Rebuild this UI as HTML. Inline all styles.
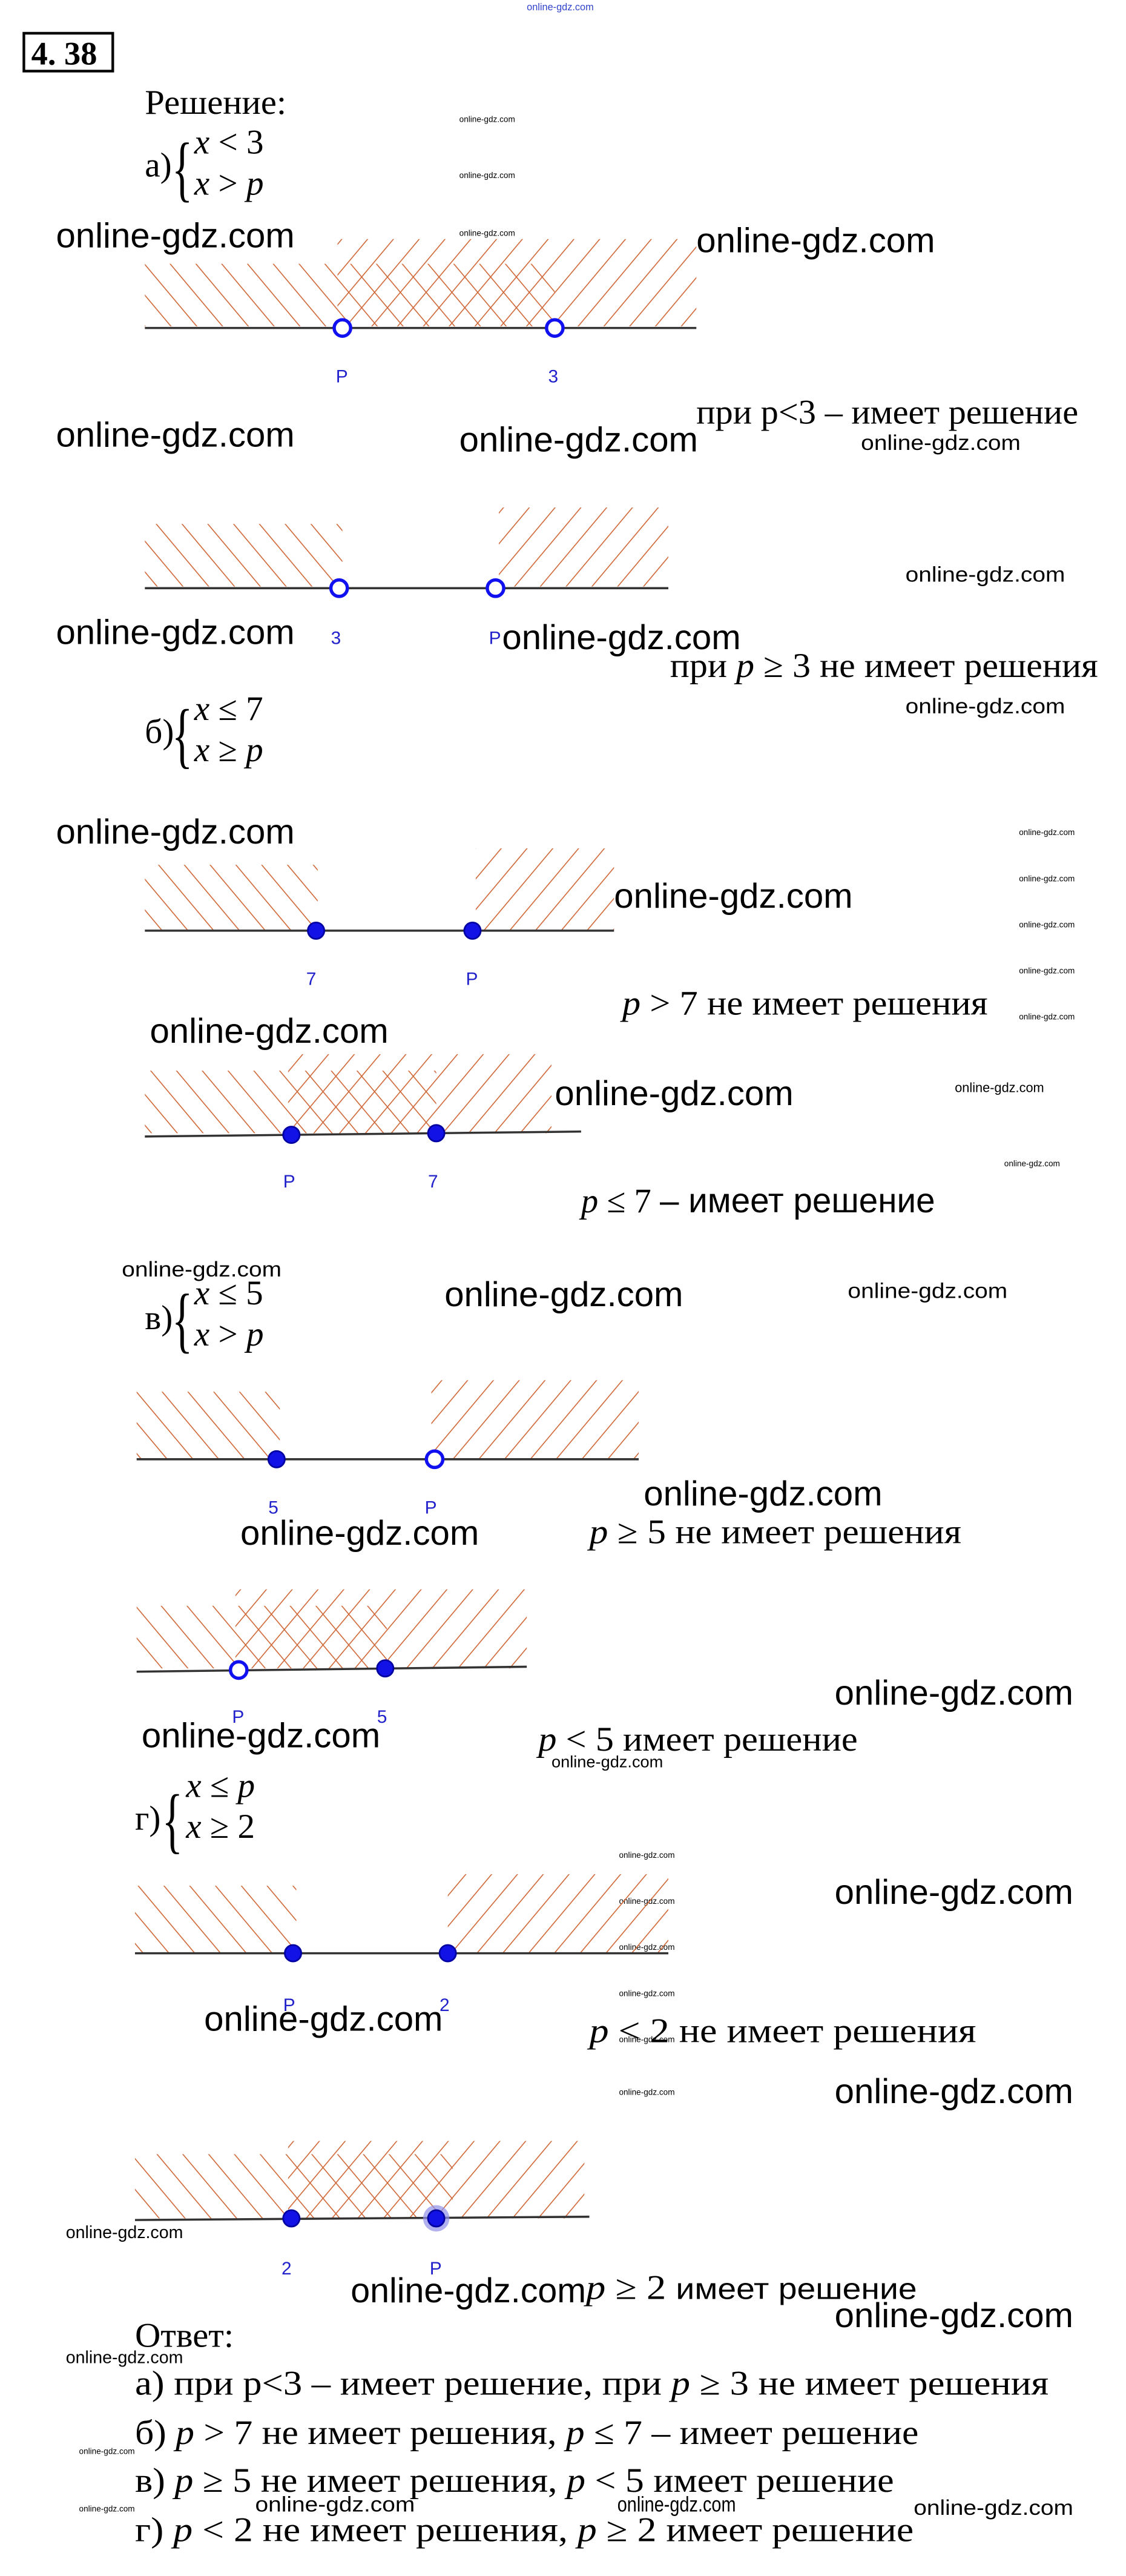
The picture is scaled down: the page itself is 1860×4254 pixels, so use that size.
<!DOCTYPE html>
<html><head><meta charset="utf-8"><style>html,body{margin:0;padding:0;background:#fff}svg{display:block}</style></head><body>
<svg xmlns="http://www.w3.org/2000/svg" width="1860" height="4254" viewBox="0 0 684 1564">
<defs>
<pattern id="bs" patternUnits="userSpaceOnUse" width="12" height="12" patternTransform="rotate(-40)"><line x1="0" y1="0" x2="0" y2="12" stroke="#cf6838" stroke-width="1.2"/></pattern>
<pattern id="fs" patternUnits="userSpaceOnUse" width="12" height="12" patternTransform="rotate(40)"><line x1="0" y1="0" x2="0" y2="12" stroke="#cf6838" stroke-width="1.2"/></pattern>
<style>
.s{font-family:"Liberation Serif",serif;font-size:21px;fill:#000}
.w{font-family:"Liberation Sans",sans-serif;font-size:21px;fill:#000}
.ws{font-family:"Liberation Sans",sans-serif;font-size:13px;fill:#000}
.wt{font-family:"Liberation Sans",sans-serif;font-size:5px;fill:#000}
.l{font-family:"Liberation Sans",sans-serif;font-size:11px;fill:#2222cc}
.i{font-style:italic}
.ln{stroke:#333;stroke-width:1.3}
.o{fill:#fff;stroke:#1010f0;stroke-width:2}
.f{fill:#1212e6;stroke:#0000a0;stroke-width:1}
</style>
</defs>
<rect width="684" height="1564" fill="#fff"/>
<text x="320" y="6" font-family="Liberation Sans" font-size="6" fill="#3344cc">online-gdz.com</text>
<rect x="14.5" y="20" width="54" height="23" fill="none" stroke="#000" stroke-width="1.6"/>
<text x="19" y="39" font-family="Liberation Serif" font-size="20" font-weight="bold">4. 38</text>
<text x="88" y="69" class="s" textLength="86" lengthAdjust="spacingAndGlyphs">Решение:</text>
<text x="88" y="107" class="s">а)</text>
<text x="104" y="117" class="s" style="font-size:44px" transform="scale(0.6,1)" dx="70">{</text>
<text x="118" y="93" class="s"><tspan class="i">x</tspan> &lt; 3</text>
<text x="118" y="118" class="s"><tspan class="i">x</tspan> &gt; <tspan class="i">p</tspan></text>
<text x="279" y="74" class="wt">online-gdz.com</text>
<text x="279" y="108" class="wt">online-gdz.com</text>
<text x="279" y="143" class="wt">online-gdz.com</text>
<text x="34" y="150" class="w" textLength="145" lengthAdjust="spacingAndGlyphs">online-gdz.com</text>
<text x="423" y="153" class="w" textLength="145" lengthAdjust="spacingAndGlyphs">online-gdz.com</text>

<rect x="88" y="160" width="249" height="38" fill="url(#bs)"/>
<rect x="205" y="145" width="218" height="53" fill="url(#fs)"/>
<line x1="88" y1="199" x2="423" y2="199" class="ln"/>
<circle cx="208" cy="199" r="5" class="o"/><circle cx="337" cy="199" r="5" class="o"/>
<text x="204" y="232" class="l">P</text><text x="333" y="232" class="l">3</text>
<text x="423" y="257" class="s" textLength="232" lengthAdjust="spacingAndGlyphs">при p&lt;3 – имеет решение</text>
<text x="523" y="273" class="ws" textLength="97" lengthAdjust="spacingAndGlyphs">online-gdz.com</text>
<text x="34" y="271" class="w" textLength="145" lengthAdjust="spacingAndGlyphs">online-gdz.com</text>
<text x="279" y="274" class="w" textLength="145" lengthAdjust="spacingAndGlyphs">online-gdz.com</text>

<rect x="88" y="318" width="120" height="38" fill="url(#bs)"/>
<rect x="303" y="308" width="103" height="48" fill="url(#fs)"/>
<line x1="88" y1="357" x2="406" y2="357" class="ln"/>
<circle cx="206" cy="357" r="5" class="o"/><circle cx="301" cy="357" r="5" class="o"/>
<text x="201" y="391" class="l">3</text><text x="297" y="391" class="l">P</text>
<text x="550" y="353" class="ws" textLength="97" lengthAdjust="spacingAndGlyphs">online-gdz.com</text>
<text x="34" y="391" class="w" textLength="145" lengthAdjust="spacingAndGlyphs">online-gdz.com</text>
<text x="305" y="394" class="w" textLength="145" lengthAdjust="spacingAndGlyphs">online-gdz.com</text>
<text x="407" y="411" class="s" textLength="260" lengthAdjust="spacingAndGlyphs">при <tspan class="i">p</tspan> ≥ 3 не имеет решения</text>
<text x="550" y="433" class="ws" textLength="97" lengthAdjust="spacingAndGlyphs">online-gdz.com</text>

<text x="88" y="451" class="s">б)</text>
<text x="104" y="461" class="s" style="font-size:44px" transform="scale(0.6,1)" dx="70">{</text>
<text x="118" y="437" class="s"><tspan class="i">x</tspan> ≤ 7</text>
<text x="118" y="462" class="s"><tspan class="i">x</tspan> ≥ <tspan class="i">p</tspan></text>
<text x="34" y="512" class="w" textLength="145" lengthAdjust="spacingAndGlyphs">online-gdz.com</text>
<text x="619" y="507" class="wt">online-gdz.com</text>
<text x="619" y="535" class="wt">online-gdz.com</text>
<text x="619" y="563" class="wt">online-gdz.com</text>
<text x="619" y="591" class="wt">online-gdz.com</text>
<text x="619" y="619" class="wt">online-gdz.com</text>

<rect x="88" y="525" width="105" height="40" fill="url(#bs)"/>
<rect x="289" y="515" width="84" height="50" fill="url(#fs)"/>
<line x1="88" y1="565" x2="373" y2="565" class="ln"/>
<circle cx="192" cy="565" r="5" class="f"/><circle cx="287" cy="565" r="5" class="f"/>
<text x="186" y="598" class="l">7</text><text x="283" y="598" class="l">P</text>
<text x="373" y="551" class="w" textLength="145" lengthAdjust="spacingAndGlyphs">online-gdz.com</text>
<text x="378" y="616" class="s" textLength="222" lengthAdjust="spacingAndGlyphs"><tspan class="i">p</tspan> &gt; 7 не имеет решения</text>
<text x="91" y="633" class="w" textLength="145" lengthAdjust="spacingAndGlyphs">online-gdz.com</text>
<text x="580" y="663" font-family="Liberation Sans" font-size="8">online-gdz.com</text>
<text x="610" y="708" class="wt">online-gdz.com</text>

<rect x="88" y="650" width="177" height="38" fill="url(#bs)"/>
<rect x="175" y="640" width="160" height="48" fill="url(#fs)"/>
<line x1="88" y1="690" x2="353" y2="687" class="ln"/>
<circle cx="177" cy="689" r="5" class="f"/><circle cx="265" cy="688" r="5" class="f"/>
<text x="172" y="721" class="l">P</text><text x="260" y="721" class="l">7</text>
<text x="337" y="671" class="w" textLength="145" lengthAdjust="spacingAndGlyphs">online-gdz.com</text>
<text x="353" y="736" class="s" textLength="215" lengthAdjust="spacingAndGlyphs"><tspan class="i">p</tspan> ≤ 7 <tspan font-family="Liberation Sans">– имеет решение</tspan></text>

<text x="74" y="775" class="ws" textLength="97" lengthAdjust="spacingAndGlyphs">online-gdz.com</text>
<text x="88" y="807" class="s">в)</text>
<text x="104" y="816" class="s" style="font-size:44px" transform="scale(0.6,1)" dx="70">{</text>
<text x="118" y="792" class="s"><tspan class="i">x</tspan> ≤ 5</text>
<text x="118" y="817" class="s"><tspan class="i">x</tspan> &gt; <tspan class="i">p</tspan></text>
<text x="270" y="793" class="w" textLength="145" lengthAdjust="spacingAndGlyphs">online-gdz.com</text>
<text x="515" y="788" class="ws" textLength="97" lengthAdjust="spacingAndGlyphs">online-gdz.com</text>

<rect x="83" y="845" width="87" height="41" fill="url(#bs)"/>
<rect x="262" y="838" width="126" height="48" fill="url(#fs)"/>
<line x1="83" y1="886" x2="388" y2="886" class="ln"/>
<circle cx="168" cy="886" r="5" class="f"/><circle cx="264" cy="886" r="5" class="o"/>
<text x="163" y="919" class="l">5</text><text x="258" y="919" class="l">P</text>
<text x="391" y="914" class="w" textLength="145" lengthAdjust="spacingAndGlyphs">online-gdz.com</text>
<text x="146" y="938" class="w" textLength="145" lengthAdjust="spacingAndGlyphs">online-gdz.com</text>
<text x="358" y="937" class="s" textLength="226" lengthAdjust="spacingAndGlyphs"><tspan class="i">p</tspan> ≥ 5 не имеет решения</text>

<rect x="83" y="975" width="152" height="38" fill="url(#bs)"/>
<rect x="143" y="965" width="177" height="48" fill="url(#fs)"/>
<line x1="83" y1="1015" x2="320" y2="1012" class="ln"/>
<circle cx="145" cy="1014" r="5" class="o"/><circle cx="234" cy="1013" r="5" class="f"/>
<text x="141" y="1046" class="l">P</text><text x="229" y="1046" class="l">5</text>
<text x="507" y="1035" class="w" textLength="145" lengthAdjust="spacingAndGlyphs">online-gdz.com</text>
<text x="86" y="1061" class="w" textLength="145" lengthAdjust="spacingAndGlyphs">online-gdz.com</text>
<text x="327" y="1063" class="s" textLength="194" lengthAdjust="spacingAndGlyphs"><tspan class="i">p</tspan> &lt; 5 имеет решение</text>
<text x="335" y="1073" font-family="Liberation Sans" font-size="10">online-gdz.com</text>

<text x="82" y="1111" class="s">г)</text>
<text x="98" y="1120" class="s" style="font-size:44px" transform="scale(0.6,1)" dx="66">{</text>
<text x="113" y="1091" class="s"><tspan class="i">x</tspan> ≤ <tspan class="i">p</tspan></text>
<text x="113" y="1116" class="s"><tspan class="i">x</tspan> ≥ 2</text>
<text x="376" y="1128" class="wt">online-gdz.com</text>
<text x="376" y="1156" class="wt">online-gdz.com</text>
<text x="376" y="1184" class="wt">online-gdz.com</text>
<text x="376" y="1212" class="wt">online-gdz.com</text>
<text x="376" y="1240" class="wt">online-gdz.com</text>
<text x="376" y="1272" class="wt">online-gdz.com</text>
<text x="507" y="1156" class="w" textLength="145" lengthAdjust="spacingAndGlyphs">online-gdz.com</text>

<rect x="82" y="1145" width="98" height="41" fill="url(#bs)"/>
<rect x="272" y="1138" width="134" height="48" fill="url(#fs)"/>
<line x1="82" y1="1186" x2="406" y2="1186" class="ln"/>
<circle cx="178" cy="1186" r="5" class="f"/><circle cx="272" cy="1186" r="5" class="f"/>
<text x="172" y="1221" class="l">P</text><text x="267" y="1221" class="l">2</text>
<text x="124" y="1233" class="w" textLength="145" lengthAdjust="spacingAndGlyphs">online-gdz.com</text>
<text x="358" y="1240" class="s" textLength="235" lengthAdjust="spacingAndGlyphs"><tspan class="i">p</tspan> &lt; 2 не имеет решения</text>
<text x="507" y="1277" class="w" textLength="145" lengthAdjust="spacingAndGlyphs">online-gdz.com</text>

<rect x="82" y="1308" width="193" height="39" fill="url(#bs)"/>
<rect x="175" y="1300" width="180" height="47" fill="url(#fs)"/>
<line x1="82" y1="1348" x2="358" y2="1346" class="ln"/>
<circle cx="177" cy="1347" r="5" class="f"/>
<circle cx="265" cy="1347" r="8" fill="#9090e8" opacity="0.7"/><circle cx="265" cy="1347" r="5" class="f"/>
<text x="171" y="1381" class="l">2</text><text x="261" y="1381" class="l">P</text>
<text x="40" y="1359" font-family="Liberation Sans" font-size="10.5">online-gdz.com</text>
<text x="213" y="1398" class="w" textLength="143" lengthAdjust="spacingAndGlyphs">online-gdz.com</text>
<text x="356" y="1396" class="s" textLength="201" lengthAdjust="spacingAndGlyphs"><tspan class="i">p</tspan> ≥ 2 <tspan font-family="Liberation Sans" font-size="18">имеет решение</tspan></text>
<text x="507" y="1413" class="w" textLength="145" lengthAdjust="spacingAndGlyphs">online-gdz.com</text>

<text x="82" y="1425" class="s" textLength="60" lengthAdjust="spacingAndGlyphs">Ответ:</text>
<text x="40" y="1435" font-family="Liberation Sans" font-size="10.5">online-gdz.com</text>
<text x="82" y="1454" class="s" textLength="555" lengthAdjust="spacingAndGlyphs">а) при p&lt;3 – имеет решение, при <tspan class="i">p</tspan> ≥ 3 не имеет решения</text>
<text x="82" y="1484" class="s" textLength="476" lengthAdjust="spacingAndGlyphs">б)  <tspan class="i">p</tspan> &gt; 7 не имеет решения, <tspan class="i">p</tspan> ≤ 7 – имеет решение</text>
<text x="82" y="1513" class="s" textLength="461" lengthAdjust="spacingAndGlyphs">в) <tspan class="i">p</tspan> ≥ 5 не имеет решения,  <tspan class="i">p</tspan> &lt; 5 имеет решение</text>
<text x="82" y="1543" class="s" textLength="473" lengthAdjust="spacingAndGlyphs">г)  <tspan class="i">p</tspan> &lt; 2 не имеет решения, <tspan class="i">p</tspan> ≥ 2 имеет решение</text>
<text x="48" y="1490" class="wt">online-gdz.com</text>
<text x="48" y="1525" class="wt">online-gdz.com</text>
<text x="155" y="1525" class="ws" textLength="97" lengthAdjust="spacingAndGlyphs">online-gdz.com</text>
<text x="375" y="1525" class="ws" textLength="72" lengthAdjust="spacingAndGlyphs">online-gdz.com</text>
<text x="555" y="1527" class="ws" textLength="97" lengthAdjust="spacingAndGlyphs">online-gdz.com</text>
</svg>
</body></html>
